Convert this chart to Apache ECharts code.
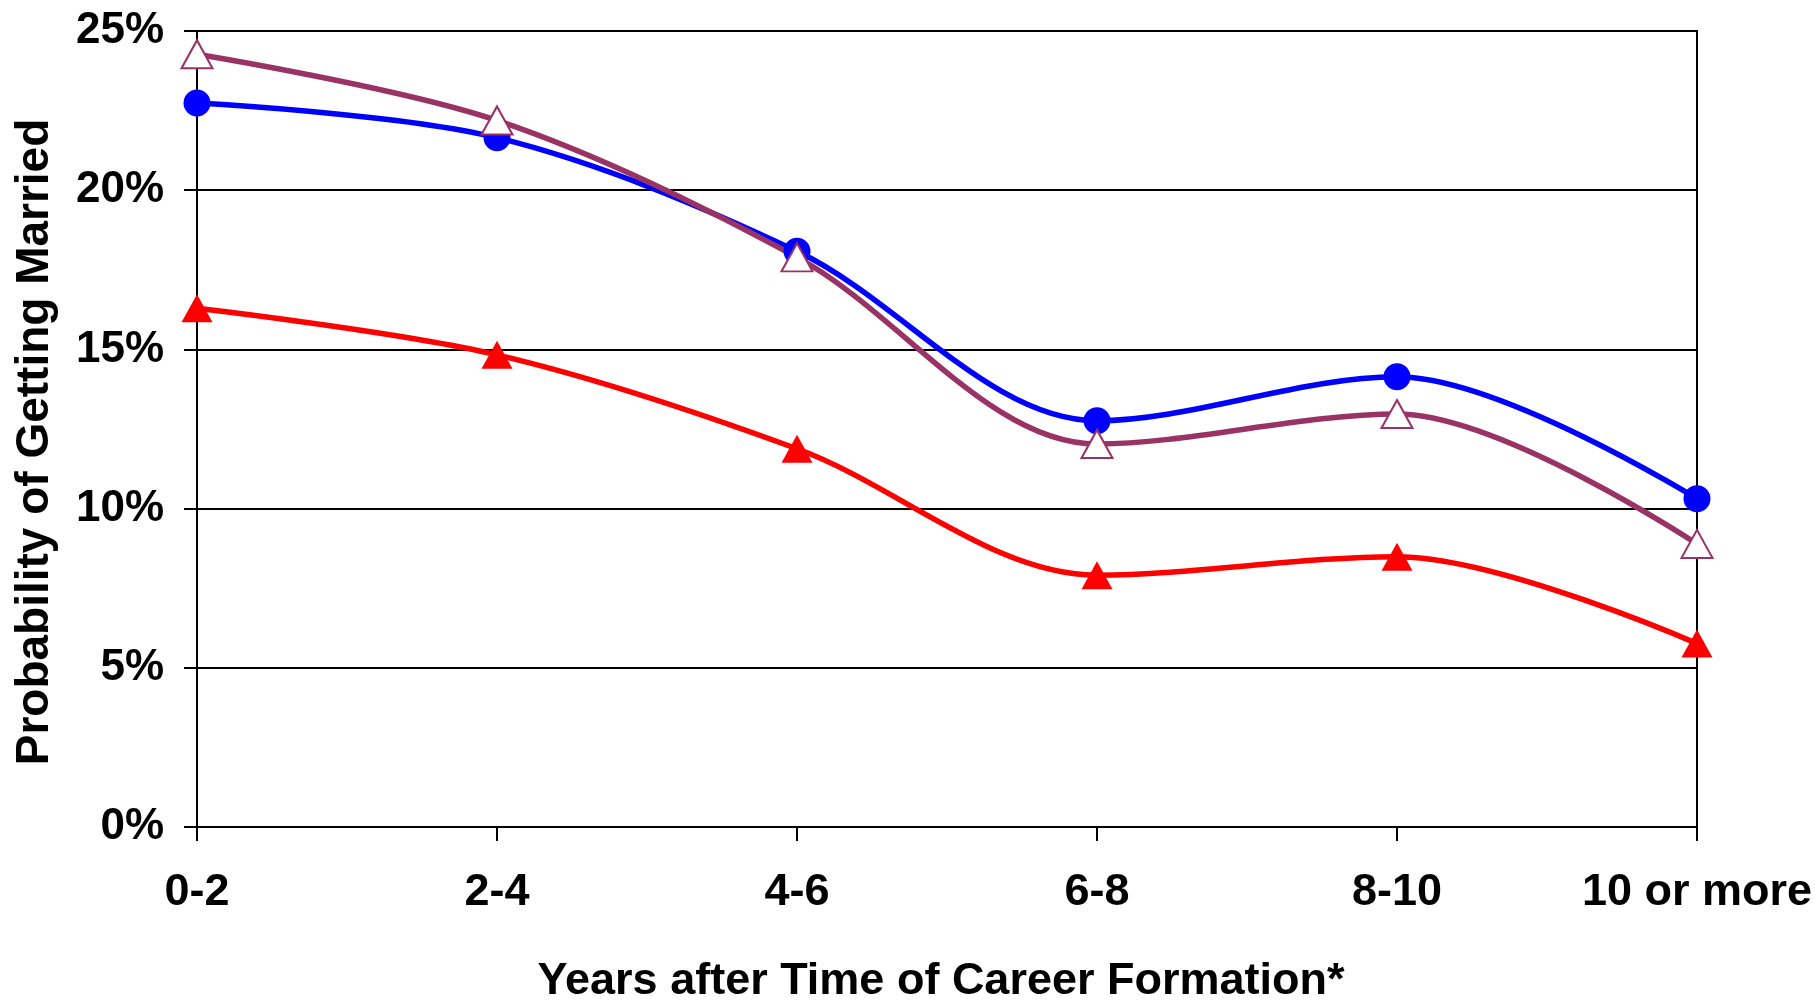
<!DOCTYPE html>
<html>
<head>
<meta charset="utf-8">
<script src="https://cdn.jsdelivr.net/npm/echarts@6/dist/echarts.min.js"></script>
<style>
html,body{margin:0;padding:0;background:#fff;}
#c{width:1819px;height:1005px;}
</style>
</head>
<body>
<div id="c"></div>
<script>
const categories = ['0-2', '2-4', '4-6', '6-8', '8-10', '10 or more'];
const blueValues = [22.74, 21.65, 18.08, 12.76, 14.14, 10.31];
const purpleValues = [24.27, 22.19, 17.89, 12.03, 12.97, 8.89];
const redValues = [16.29, 14.83, 11.88, 7.91, 8.49, 5.76];
const yTicks = [0, 5, 10, 15, 20, 25];

const FONT = 'Liberation Sans, Arial, Helvetica, sans-serif';
const chart = echarts.init(document.getElementById('c'), null, {renderer: 'canvas'});

chart.setOption({
  backgroundColor: '#ffffff',
  animation: false,
  grid: {
    left: 197, right: 122, top: 31, bottom: 178,
    show: true, borderColor: '#000', borderWidth: 2, backgroundColor: 'transparent'
  },
  xAxis: {
    type: 'category',
    data: categories,
    boundaryGap: false,
    axisLine: {show: true, lineStyle: {color: '#000', width: 2}},
    axisTick: {show: true, length: 14, lineStyle: {color: '#000', width: 2}},
    axisLabel: {color: '#000', fontFamily: FONT, fontWeight: 'bold', fontSize: 45, margin: 43}
  },
  yAxis: {
    type: 'value',
    min: yTicks[0],
    max: yTicks[yTicks.length - 1],
    interval: 5,
    axisLine: {show: true, lineStyle: {color: '#000', width: 2}},
    axisTick: {show: true, length: 13, lineStyle: {color: '#000', width: 2}},
    splitLine: {show: true, lineStyle: {color: '#000', width: 2}},
    axisLabel: {color: '#000', fontFamily: FONT, fontWeight: 'bold', fontSize: 44, margin: 33,
      padding: [4, 0, 0, 0], formatter: v => v + '%'}
  },
  graphic: [
    {
      type: 'text',
      x: 941, y: 982,
      style: {text: 'Years after Time of Career Formation*', fill: '#000',
        font: 'bold 45px ' + FONT, textAlign: 'center', textVerticalAlign: 'middle'}
    },
    {
      type: 'text',
      x: 35, y: 442, rotation: Math.PI / 2,
      style: {text: 'Probability of Getting Married', fill: '#000',
        font: 'bold 46px ' + FONT, textAlign: 'center', textVerticalAlign: 'middle'}
    }
  ],
  series: [
    {
      name: 'Blue', type: 'line', data: blueValues, smooth: 0.33,
      symbol: 'circle', symbolSize: 27,
      lineStyle: {color: '#0000ff', width: 5.5},
      itemStyle: {color: '#0000ff'}
    },
    {
      name: 'Purple', type: 'line', data: purpleValues, smooth: 0.33,
      symbol: 'triangle', symbolSize: [31, 28],
      lineStyle: {color: '#993366', width: 5.5},
      itemStyle: {color: '#ffffff', borderColor: '#993366', borderWidth: 2}
    },
    {
      name: 'Red', type: 'line', data: redValues, smooth: 0.33,
      symbol: 'triangle', symbolSize: [31, 28],
      lineStyle: {color: '#ff0000', width: 5.5},
      itemStyle: {color: '#ff0000'}
    }
  ]
});
</script>
</body>
</html>
